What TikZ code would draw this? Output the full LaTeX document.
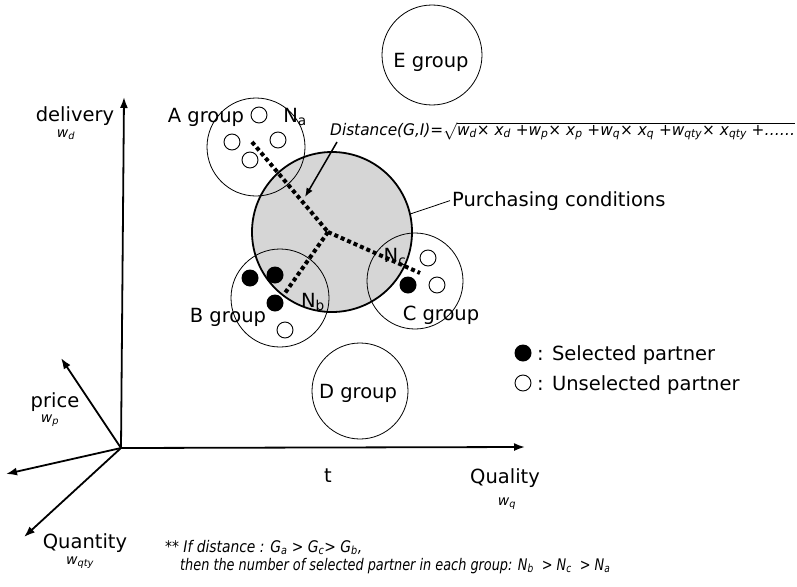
\documentclass[tikz,border=0pt]{standalone}
\usepackage{graphicx}
\usepackage{fontspec}
\setmainfont{DejaVu Sans}
\usetikzlibrary{arrows.meta}
\tikzset{
 lbl/.style={font=\fontsize{19.5}{22}\selectfont, inner sep=0pt, anchor=base},
 wlbl/.style={font=\fontsize{14}{16}\selectfont\itshape, inner sep=0pt, anchor=base},
 axisarrow/.style={line width=1.8pt, -{Latex[length=11pt,width=8pt]}},
 grp/.style={circle, draw, line width=0.8pt, inner sep=0pt},
 openp/.style={circle, draw, line width=0.9pt, minimum size=16pt, inner sep=0pt},
 selp/.style={circle, fill, minimum size=17pt, inner sep=0pt},
 dotline/.style={line width=4pt, dash pattern=on 4pt off 3pt},
}
\begin{document}
\begin{tikzpicture}[x=1pt,y=-1pt]
\useasboundingbox (0,0) rectangle (797,586);
% axes
\coordinate (O) at (121,448);
\coordinate (ydir) at (124,97);
\coordinate (xdir) at (525,447);
\coordinate (pdir) at (61,358);
\coordinate (tdir) at (6,474);
\coordinate (qdir) at (24,537);
\draw[axisarrow] (O) -- (ydir);
\draw[axisarrow] (O) -- (xdir);
\draw[axisarrow] (O) -- (pdir);
\draw[axisarrow] (O) -- (tdir);
\draw[axisarrow] (O) -- (qdir);
\node[lbl] (deliv) at (75,121) {delivery};
\node[wlbl] (wd) at (66,137) {w\textsubscript{d}};
\node[lbl] (price) at (55,407) {price};
\node[wlbl] (wp) at (50,422) {w\textsubscript{p}};
\node[lbl] (quant) at (85,548) {Quantity};
\node[wlbl] (wqty) at (80,564) {w\textsubscript{qty}};
\node[lbl] (tlbl) at (328,482) {t};
\node[lbl] (qual) at (505,483) {Quality};
\node[wlbl] (wq) at (507,505) {w\textsubscript{q}};
% purchasing conditions circle
\node[circle, draw, line width=1.8pt, fill=black!16, minimum size=160pt, inner sep=0pt] (pcirc) at (332,232) {};
% group circles
\node[grp, minimum size=98pt] (Ac) at (256,147) {};
\node[grp, minimum size=98pt] (Bc) at (280,298) {};
\node[grp, minimum size=96pt] (Cc) at (415,281) {};
\node[grp, minimum size=96pt] (Dc) at (360,391) {};
\node[grp, minimum size=100pt] (Ec) at (432,55) {};
% group labels
\node[lbl] (Albl) at (206,122) {A group};
\node[lbl] (Blbl) at (228,322) {B group};
\node[lbl] (Clbl) at (441,320) {C group};
\node[lbl] (Dlbl) at (358,398) {D group};
\node[lbl] (Elbl) at (431,67) {E group};
% partners
\node[openp] (a0) at (259,115) {};
\node[openp] (a1) at (232,142) {};
\node[openp] (a2) at (278,140) {};
\node[openp] (a3) at (250,160) {};
\node[openp] (b1) at (285,330) {};
\node[openp] (c1) at (428,258) {};
\node[openp] (c2) at (437,285) {};
% dotted distance lines
\coordinate (ctr) at (328,232);
\coordinate (aend) at (252,142);
\coordinate (bend) at (285,293);
\coordinate (cend) at (420,273);
\draw[dotline] (aend) -- (ctr);
\draw[dotline] (ctr) -- (bend);
\draw[dotline] (ctr) -- (cend);
\node[selp] (b2) at (250,278) {};
\node[selp] (b3) at (275,275) {};
\node[selp] (b4) at (275,303) {};
\node[selp] (c3) at (408,285) {};
\node[lbl] (Na) at (295,122) {N\textsubscript{a}};
\node[lbl] (Nb) at (313,307) {N\textsubscript{b}};
\node[lbl] (Nc) at (395,262) {N\textsubscript{c}};
% formula
\node[anchor=base west, inner sep=0pt, font=\fontsize{16}{18}\selectfont\itshape] (dist) at (330,135)
 {\resizebox{465pt}{\height}{Distance(G,I)=$\sqrt{\mbox{w\textsubscript{d}× x\textsubscript{d} +w\textsubscript{p}× x\textsubscript{p} +w\textsubscript{q}× x\textsubscript{q} +w\textsubscript{qty}× x\textsubscript{qty} +……}}$}};
\coordinate (dstart) at (337,142);
\coordinate (dtip) at (305,197);
\draw[line width=1.5pt, -{Latex[length=9pt,width=7pt]}] (dstart) -- (dtip);
% purchasing conditions label
\node[lbl, anchor=base west] (pclbl) at (452,206) {Purchasing conditions};
\draw[line width=0.8pt] (pcirc.13) -- ([xshift=-2pt]pclbl.west);
% legend
\node[selp] (lsel) at (523,353) {};
\node[openp] (lopen) at (523,383) {};
\node[lbl, anchor=base west] (lsell) at (537,360) {: Selected partner};
\node[lbl, anchor=base west] (lopenl) at (537,390) {: Unselected partner};
% bottom note
\node[anchor=base west, inner sep=0pt, font=\fontsize{16}{18}\selectfont\itshape] (note1) at (165,552)
 {\resizebox{197pt}{\height}{** If distance : G\textsubscript{a} > G\textsubscript{c}> G\textsubscript{b},}};
\node[anchor=base west, inner sep=0pt, font=\fontsize{16}{18}\selectfont\itshape] (note2) at (180,570)
 {\resizebox{430pt}{\height}{then the number of selected partner in each group: N\textsubscript{b} \ > N\textsubscript{c} \ > N\textsubscript{a}}};
\end{tikzpicture}
\end{document}
